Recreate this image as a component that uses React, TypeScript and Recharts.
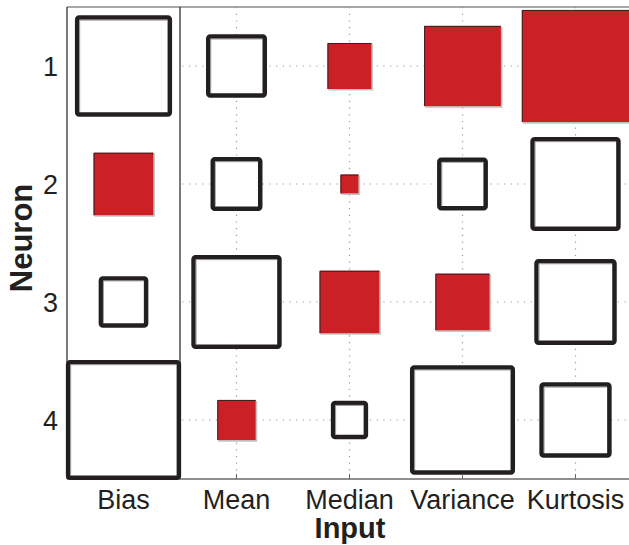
import { ScatterChart, Scatter, XAxis, YAxis, ReferenceArea, ReferenceLine } from 'recharts';

const inputs = ['Bias', 'Mean', 'Median', 'Variance', 'Kurtosis'];
const neurons = [1, 2, 3, 4];

// signed weights per input (neuron 1..4); negative = red
const biasW = [0.82, -0.53, 0.4, 0.98];
const meanW = [0.5, 0.42, 0.76, -0.34];
const medianW = [-0.39, -0.16, -0.53, 0.29];
const varianceW = [-0.68, 0.41, -0.48, 0.89];
const kurtosisW = [-0.95, 0.76, 0.69, 0.6];

const weights = [biasW, meanW, medianW, varianceW, kurtosisW];

const cells = weights.flatMap((col, i) =>
  col.map((w, j) => ({ x: i + 1, y: neurons[j], w }))
);

const INK = '#231f20';
const RED = '#cc2027';
const FONT = '"Liberation Sans", Arial, Helvetica, sans-serif';
const DOT = { stroke: '#9a9a9a', strokeWidth: 1.2, strokeDasharray: '1.2 5.5' };

const PosBox = (p: any) => {
  const { x, y, width, height } = p;
  return (
    <g>
      <rect x={x} y={y} width={width} height={height} fill="#fff" stroke={INK} strokeWidth={4.5} rx={2} />
      <path
        d={`M${x + 2.5},${y + height - 2.5} L${x + 2.5},${y + 2.5} L${x + width - 2.5},${y + 2.5}`}
        fill="none"
        stroke="#9a9a9a"
        strokeWidth={1}
      />
    </g>
  );
};

const NegBox = (p: any) => {
  const { x, y, width, height } = p;
  return (
    <g>
      <path
        d={`M${x + 1},${y + height + 0.8} L${x + width + 0.8},${y + height + 0.8} L${x + width + 0.8},${y + 1}`}
        fill="none"
        stroke="#c4c4c4"
        strokeWidth={1.6}
      />
      <rect x={x} y={y} width={width} height={height} fill={RED} />
      <path d={`M${x + 0.5},${y + height} L${x + 0.5},${y + 0.5} L${x + width},${y + 0.5}`} fill="none" stroke="#3a2020" strokeWidth={1} />
    </g>
  );
};

// dotted grid lines drawn as thin reference areas so they stay under the boxes
const VGrid = (p: any) => {
  const cx = p.x + p.width / 2;
  return <line x1={cx} y1={p.y} x2={cx} y2={p.y + p.height} {...DOT} />;
};
const HGrid = (p: any) => {
  const cy = p.y + p.height / 2;
  return <line x1={p.x} y1={cy} x2={p.x + p.width} y2={cy} {...DOT} />;
};

const XTick = (p: any) => {
  const { x, y, payload, index } = p;
  return (
    <g>
      {index > 0 && <line x1={x} y1={y} x2={x} y2={y - 5} stroke="#666" strokeWidth={1} />}
      <text x={x} y={y + 30} textAnchor="middle" fontSize={27} fontFamily={FONT} fill={INK}>
        {inputs[payload.value - 1]}
      </text>
    </g>
  );
};

const YTick = (p: any) => {
  const { x, y, payload } = p;
  return (
    <text x={x - 9} y={y + 9.5} textAnchor="end" fontSize={27} fontFamily={FONT} fill={INK}>
      {payload.value}
    </text>
  );
};

export default function App() {
  return (
    <div style={{ position: 'absolute', left: 0, top: 0, width: 629, height: 545, overflow: 'hidden', background: '#fff' }}>
      <ScatterChart width={632} height={545} margin={{ top: 7, right: 0, bottom: 0, left: 0 }}>
        <XAxis
          type="number"
          dataKey="x"
          domain={[0.5, 5.5]}
          ticks={[1, 2, 3, 4, 5]}
          height={66}
          tickSize={0}
          tickMargin={0}
          tick={<XTick />}
          axisLine={{ stroke: INK, strokeWidth: 1.2 }}
          tickLine={false}
          interval={0}
        />
        <YAxis
          type="number"
          dataKey="y"
          domain={[0.5, 4.5]}
          reversed
          ticks={neurons}
          width={67}
          tickSize={0}
          tickMargin={0}
          tick={<YTick />}
          axisLine={{ stroke: INK, strokeWidth: 1.2 }}
          tickLine={false}
          interval={0}
        />
        <ReferenceLine y={0.5} stroke="#8a8a8a" strokeWidth={1.5} />
        <ReferenceLine x={1.5} stroke={INK} strokeWidth={1.2} />
        {[2, 3, 4, 5].map((v) => (
          <ReferenceArea key={'vx' + v} x1={v - 0.01} x2={v + 0.01} y1={0.5} y2={4.5} shape={<VGrid />} ifOverflow="visible" />
        ))}
        {neurons.map((v) => (
          <ReferenceArea key={'hy' + v} x1={1.52} x2={5.5} y1={v - 0.01} y2={v + 0.01} shape={<HGrid />} ifOverflow="visible" />
        ))}
        {cells.map((c, k) => {
          const h = Math.abs(c.w) / 2;
          return (
            <ReferenceArea
              key={k}
              x1={c.x - h}
              x2={c.x + h}
              y1={c.y - h}
              y2={c.y + h}
              shape={c.w >= 0 ? <PosBox /> : <NegBox />}
              ifOverflow="visible"
            />
          );
        })}
        <Scatter data={cells} isAnimationActive={false} shape={() => <g />} />
      </ScatterChart>
      <div
        style={{
          position: 'absolute',
          left: 350,
          top: 511,
          transform: 'translateX(-50%)',
          fontFamily: FONT,
          fontWeight: 'bold',
          fontSize: 29,
          lineHeight: '34px',
          color: INK,
          whiteSpace: 'nowrap',
        }}
      >
        Input
      </div>
      <div
        style={{
          position: 'absolute',
          left: 22,
          top: 238,
          transform: 'translate(-50%, -50%) rotate(-90deg)',
          fontFamily: FONT,
          fontWeight: 'bold',
          fontSize: 31,
          lineHeight: '34px',
          color: INK,
          whiteSpace: 'nowrap',
        }}
      >
        Neuron
      </div>
    </div>
  );
}
